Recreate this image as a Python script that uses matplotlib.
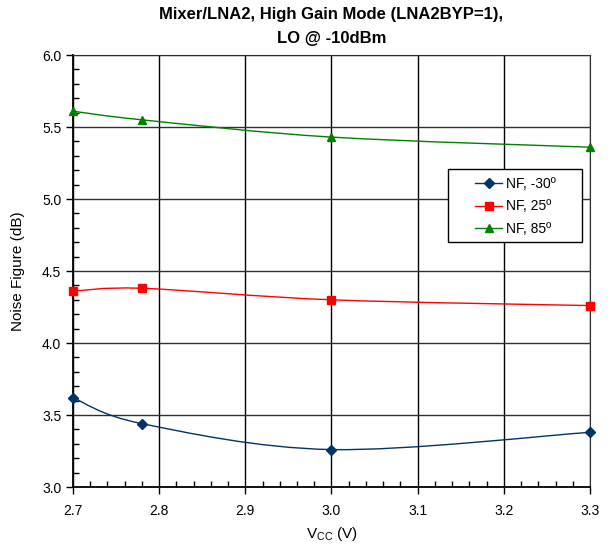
import matplotlib
matplotlib.use('Agg')
from matplotlib import pyplot as plt
from matplotlib.path import Path
from matplotlib.patches import PathPatch, Rectangle
from matplotlib.lines import Line2D
from matplotlib.ticker import MultipleLocator

plt.rcParams['font.family'] = ['Liberation Sans', 'DejaVu Sans']

vcc = [2.7, 2.78, 3.0, 3.3]
nf_m30 = [3.62, 3.44, 3.26, 3.38]
nf_25 = [4.36, 4.38, 4.30, 4.26]
nf_85 = [5.61, 5.55, 5.43, 5.36]

series = [
    ("NF, -30º", nf_m30, '#003366', 'D', 5),
    ("NF, 25º", nf_25, '#ff0000', 's', 6),
    ("NF, 85º", nf_85, '#008000', '^', 6),
]


def smooth_path(xs, ys):
    # Excel-like smoothed line: Catmull-Rom as cubic Bezier segments
    pts = list(zip(xs, ys))
    verts = [pts[0]]
    codes = [Path.MOVETO]
    n = len(pts)
    for i in range(n - 1):
        p0 = pts[i - 1] if i > 0 else pts[i]
        p1 = pts[i]
        p2 = pts[i + 1]
        p3 = pts[i + 2] if i + 2 < n else pts[i + 1]
        c1 = (p1[0] + (p2[0] - p0[0]) / 6, p1[1] + (p2[1] - p0[1]) / 6)
        c2 = (p2[0] - (p3[0] - p1[0]) / 6, p2[1] - (p3[1] - p1[1]) / 6)
        verts += [c1, c2, p2]
        codes += [Path.CURVE4] * 3
    return Path(verts, codes)


fig = plt.figure(figsize=(6.11, 5.48), dpi=100)
ax = fig.add_axes([0.1195, 0.1113, 0.8461, 0.7883])

handles = []
for label, ys, color, marker, ms in series:
    ax.add_patch(PathPatch(smooth_path(vcc, ys), facecolor='none', edgecolor=color,
                           lw=1.0, zorder=3))
    ax.plot(vcc, ys, ls='none', marker=marker, ms=ms, color=color, zorder=4, clip_on=False)
    handles.append(Line2D([], [], color=color, lw=1.0, marker=marker, ms=ms, label=label))

ax.set_xlim(2.7, 3.3)
ax.set_ylim(3.0, 6.0)
ax.xaxis.set_major_locator(MultipleLocator(0.1))
ax.xaxis.set_minor_locator(MultipleLocator(0.02))
ax.yaxis.set_major_locator(MultipleLocator(0.5))
ax.yaxis.set_minor_locator(MultipleLocator(0.1))
ax.xaxis.set_major_formatter(plt.FormatStrFormatter('%.1f'))
ax.yaxis.set_major_formatter(plt.FormatStrFormatter('%.1f'))
ax.tick_params(which='major', direction='out', length=5, width=1, labelsize=10)
ax.tick_params(which='minor', direction='in', length=4, width=1)
ax.tick_params(axis='x', pad=7)

ax.grid(True, which='major', axis='x', color='black', lw=1)
ax.grid(True, which='major', axis='y', color='#303030', lw=1)
ax.set_axisbelow(True)
for sp in ['top', 'right']:
    ax.spines[sp].set_color('#303030')
for sp in ['left', 'bottom']:
    ax.spines[sp].set_linewidth(1.3)

ax.set_xlabel("V$_{\\mathregular{CC}}$ (V)", fontsize=11, labelpad=5)
ax.set_ylabel("Noise Figure (dB)", fontsize=11, labelpad=12)
ax.set_title("Mixer/LNA2, High Gain Mode (LNA2BYP=1),\nLO @ -10dBm",
             fontsize=12, fontweight='bold', linespacing=1.75, pad=9)

# legend box drawn separately (Excel legend has wide padding)
ax.add_patch(Rectangle((0.7253, 0.567), 0.2592, 0.169, transform=ax.transAxes,
                       facecolor='white', edgecolor='black', lw=1.0, zorder=5))
leg = ax.legend(handles=handles, loc='upper left', bbox_to_anchor=(0.7776, 0.718),
                fontsize=10, frameon=False, borderpad=0, labelspacing=0.62,
                handlelength=1.95, handletextpad=0.25, borderaxespad=0)
leg.set_zorder(6)

fig.savefig('out.png', dpi=100)
